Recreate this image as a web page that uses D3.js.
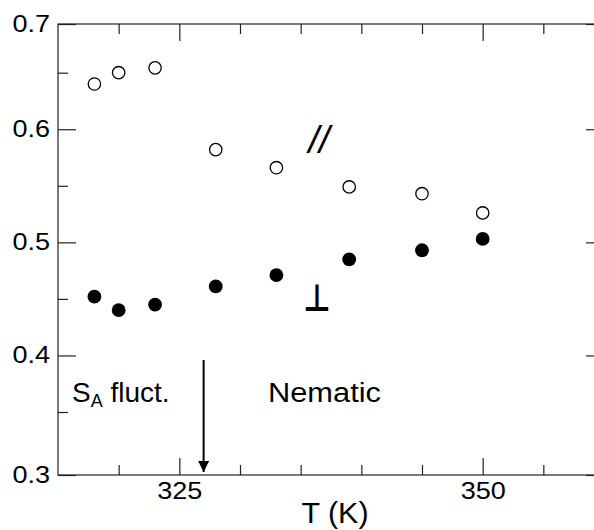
<!DOCTYPE html>
<html>
<head>
<meta charset="utf-8">
<script src="https://cdn.jsdelivr.net/npm/d3@7"></script>
<style>
  body { margin: 0; background: #fff; }
  text { font-family: "Liberation Sans", Arial, sans-serif; fill: #000; }
</style>
</head>
<body>
<div id="chart"></div>
<script>
const temps = [318, 320, 323, 328, 333, 339, 345, 350];
const parallelVals = [0.640, 0.650, 0.655, 0.582, 0.566, 0.549, 0.543, 0.526];
const perpVals = [0.452, 0.440, 0.445, 0.461, 0.471, 0.485, 0.493, 0.503];

const xMajor = [325, 350];
const xMinor = [320, 330, 335, 340, 345, 355];
const yMajor = [0.3, 0.4, 0.5, 0.6, 0.7];
const yMinor = [0.35, 0.45, 0.55, 0.65];

const width = 594;
const height = 530;
const plotLeft = 58, plotRight = 604, plotTop = 24, plotBottom = 475;

const svg = d3.select("#chart")
  .append("svg")
  .attr("width", width)
  .attr("height", height);

const x = d3.scaleLinear().domain([315, 360]).range([plotLeft, plotRight]);
// end ticks of the original sit on the frame, inner ticks are evenly spaced
const y = d3.scaleLinear()
  .domain([0.3, 0.35, 0.65, 0.7])
  .range([plotBottom, 412, 72.7, plotTop]);

const tickStretch = "scale(1.15,1)";

// bottom axis with labels
const xAxis = svg.append("g")
  .attr("transform", `translate(0,${plotBottom})`)
  .call(d3.axisBottom(x).tickValues(xMajor).tickSize(-17).tickPadding(7).tickFormat(d3.format("d")));
svg.append("g")
  .attr("transform", `translate(0,${plotBottom})`)
  .call(d3.axisBottom(x).tickValues(xMinor).tickSize(-10).tickFormat(""));
svg.append("g")
  .attr("transform", `translate(0,${plotTop})`)
  .call(d3.axisTop(x).tickValues(xMajor).tickSize(-17).tickFormat(""));
svg.append("g")
  .attr("transform", `translate(0,${plotTop})`)
  .call(d3.axisTop(x).tickValues(xMinor).tickSize(-10).tickFormat(""));

const yAxis = svg.append("g")
  .attr("transform", `translate(${plotLeft},0)`)
  .call(d3.axisLeft(y).tickValues(yMajor).tickSize(-18).tickPadding(8).tickFormat(d3.format(".1f")));
svg.append("g")
  .attr("transform", `translate(${plotLeft},0)`)
  .call(d3.axisLeft(y).tickValues(yMinor).tickSize(-10).tickFormat(""));
svg.append("g")
  .attr("transform", `translate(${plotRight},0)`)
  .call(d3.axisRight(y).tickValues(yMajor).tickSize(-18).tickFormat(""));
svg.append("g")
  .attr("transform", `translate(${plotRight},0)`)
  .call(d3.axisRight(y).tickValues(yMinor).tickSize(-10).tickFormat(""));

svg.selectAll(".domain").remove();
svg.selectAll(".tick line").attr("stroke", "#222").attr("stroke-width", 1.2);
svg.selectAll(".tick text")
  .attr("fill", "#000")
  .style("font-size", "23.5px")
  .style("font-family", "'Liberation Sans', Arial, sans-serif");
xAxis.selectAll(".tick text").attr("transform", tickStretch);
yAxis.selectAll(".tick text").attr("transform", tickStretch).attr("x", -8 / 1.15);

svg.append("rect")
  .attr("x", plotLeft)
  .attr("y", plotTop)
  .attr("width", plotRight - plotLeft)
  .attr("height", plotBottom - plotTop)
  .attr("fill", "none")
  .attr("stroke", "#222")
  .attr("stroke-width", 1.2);

// axis title
svg.append("text")
  .attr("transform", `translate(${(plotLeft + plotRight) / 2 + 4},523) scale(1.05,1)`)
  .attr("text-anchor", "middle")
  .style("font-size", "29px")
  .text("T (K)");

// data
svg.append("g").selectAll("circle")
  .data(temps)
  .join("circle")
  .attr("cx", d => x(d))
  .attr("cy", (d, i) => y(parallelVals[i]))
  .attr("r", 6.2)
  .attr("fill", "#fff")
  .attr("stroke", "#000")
  .attr("stroke-width", 1.3);

svg.append("g").selectAll("circle")
  .data(temps)
  .join("circle")
  .attr("cx", d => x(d))
  .attr("cy", (d, i) => y(perpVals[i]))
  .attr("r", 6.9)
  .attr("fill", "#000");

// series labels
svg.append("text")
  .attr("x", 319)
  .attr("y", 153)
  .attr("text-anchor", "middle")
  .style("font-size", "38px")
  .style("font-style", "italic")
  .text("//");

svg.append("text")
  .attr("transform", "translate(317,311) scale(1,1.25)")
  .attr("text-anchor", "middle")
  .style("font-family", "'DejaVu Sans', sans-serif")
  .style("font-weight", "bold")
  .style("font-size", "30px")
  .text("\u22A5");

// phase annotations
const sa = svg.append("text")
  .attr("x", 72)
  .attr("y", 401.5)
  .style("font-size", "28px");
sa.append("tspan").text("S");
sa.append("tspan").attr("dy", 5).style("font-size", "18px").text("A");
sa.append("tspan").attr("dy", -5).text(" fluct.");

svg.append("text")
  .attr("transform", "translate(268,401.5) scale(1.1,1)")
  .style("font-size", "28px")
  .text("Nematic");

// transition arrow at T = 327 K
const tc = 327;
svg.append("defs").append("marker")
  .attr("id", "head")
  .attr("viewBox", "0 0 10 10")
  .attr("refX", 10)
  .attr("refY", 5)
  .attr("markerWidth", 11)
  .attr("markerHeight", 11)
  .attr("markerUnits", "userSpaceOnUse")
  .attr("orient", "auto")
  .append("path")
  .attr("d", "M0,0L10,5L0,10Z")
  .attr("fill", "#000");

svg.append("line")
  .attr("x1", x(tc))
  .attr("x2", x(tc))
  .attr("y1", 360)
  .attr("y2", 472)
  .attr("stroke", "#000")
  .attr("stroke-width", 2)
  .attr("marker-end", "url(#head)");
</script>
</body>
</html>
